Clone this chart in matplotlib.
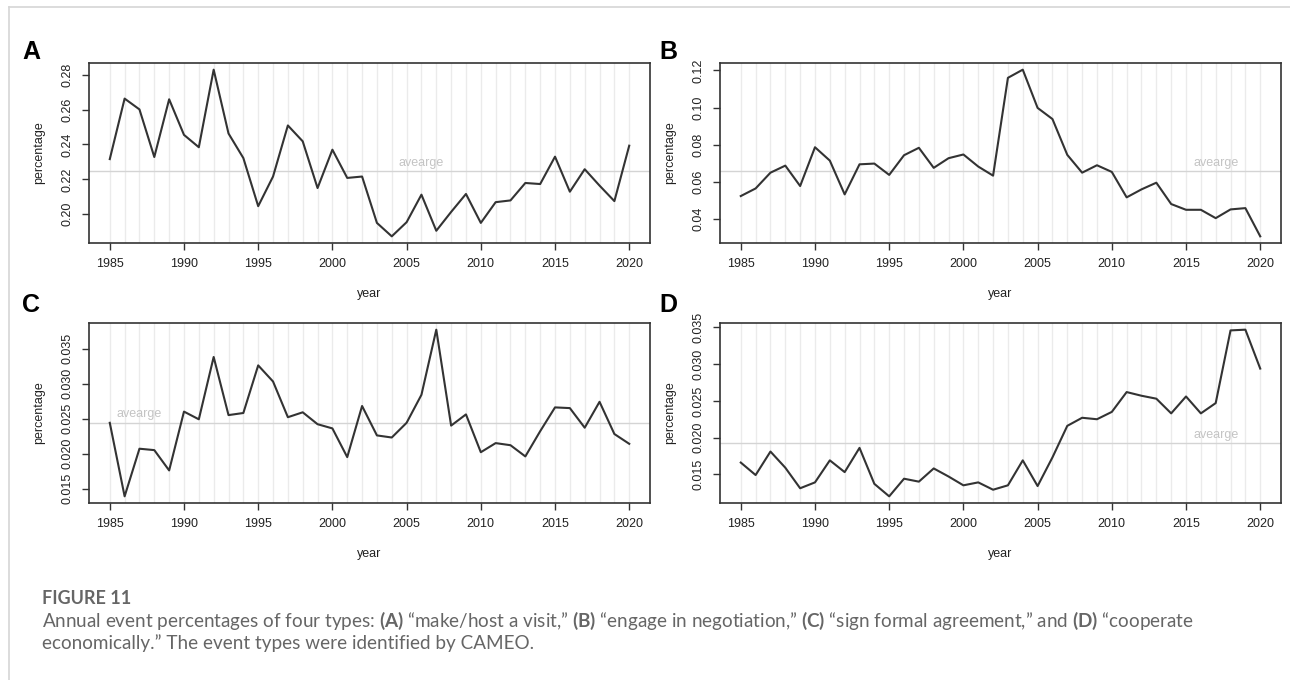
import matplotlib
matplotlib.use("Agg")
import matplotlib.pyplot as plt
import numpy as np
from matplotlib.lines import Line2D

plt.rcParams['font.family'] = ['Liberation Sans', 'DejaVu Sans']
plt.rcParams['mathtext.fontset'] = 'custom'
plt.rcParams['mathtext.rm'] = 'Lato'
plt.rcParams['mathtext.bf'] = 'Lato:bold'

years = list(range(1985, 2021))

# (A) make/host a visit
visit = [0.2316, 0.2663, 0.2601, 0.2328, 0.2659, 0.2455, 0.2384, 0.2829, 0.2463, 0.2322,
         0.2046, 0.2216, 0.2509, 0.2418, 0.2150, 0.2370, 0.2208, 0.2216, 0.1950, 0.1873,
         0.1954, 0.2112, 0.1905, 0.2013, 0.2116, 0.1950, 0.2069, 0.2079, 0.2179, 0.2173,
         0.2330, 0.2129, 0.2258, 0.2164, 0.2075, 0.2393]
# (B) engage in negotiation
negotiation = [0.0523, 0.0564, 0.0649, 0.0687, 0.0577, 0.0786, 0.0714, 0.0532, 0.0694, 0.0698,
               0.0637, 0.0743, 0.0783, 0.0675, 0.0727, 0.0747, 0.0682, 0.0633, 0.1160, 0.1204,
               0.0998, 0.0938, 0.0745, 0.0649, 0.0689, 0.0653, 0.0516, 0.0559, 0.0595, 0.0480,
               0.0449, 0.0449, 0.0404, 0.0451, 0.0458, 0.0306]
# (C) sign formal agreement
agreement = [0.0244, 0.0139, 0.0207, 0.0205, 0.0176, 0.0260, 0.0249, 0.0338, 0.0255, 0.0258,
             0.0326, 0.0303, 0.0252, 0.0259, 0.0242, 0.0236, 0.0195, 0.0268, 0.0226, 0.0223,
             0.0244, 0.0284, 0.0377, 0.0240, 0.0256, 0.0202, 0.0215, 0.0212, 0.0196, 0.0232,
             0.0266, 0.0265, 0.0237, 0.0274, 0.0228, 0.0214]
# (D) cooperate economically
economic = [0.0166, 0.0149, 0.0181, 0.0159, 0.0131, 0.0139, 0.0169, 0.0153, 0.0186, 0.0137,
            0.0120, 0.0144, 0.0140, 0.0158, 0.0147, 0.0135, 0.0139, 0.0129, 0.0135, 0.0169,
            0.0134, 0.0173, 0.0216, 0.0227, 0.0225, 0.0235, 0.0262, 0.0257, 0.0253, 0.0233,
            0.0256, 0.0233, 0.0247, 0.0346, 0.0347, 0.0294]

averages = [0.2245, 0.0658, 0.0244, 0.0192]
avg_label_year = [2006, 2017, 1987, 2017]

yticks_a = [0.20, 0.22, 0.24, 0.26, 0.28]
yticks_b = [0.04, 0.06, 0.08, 0.10, 0.12]
yticks_c = [0.015, 0.020, 0.025, 0.030, 0.035]
yticks_d = [0.015, 0.020, 0.025, 0.030, 0.035]
ytick_fmt = ["%.2f", "%.2f", "%.3f", "%.3f"]
xticks = [1985, 1990, 1995, 2000, 2005, 2010, 2015, 2020]
panel_letters = ["A", "B", "C", "D"]

W, H = 1290, 680
fig = plt.figure(figsize=(W / 100, H / 100), dpi=100)

def box(left, right, top, bottom):
    return [left / W, 1 - bottom / H, (right - left) / W, (bottom - top) / H]

positions = [box(89, 650, 63, 243), box(720, 1281, 63, 243),
             box(89, 650, 323, 503), box(720, 1281, 323, 503)]
letter_pos = [(22, 52), (659, 52), (22, 305), (659, 305)]

series = [visit, negotiation, agreement, economic]
yticks_all = [yticks_a, yticks_b, yticks_c, yticks_d]

dark = "#333333"
for i in range(4):
    ax = fig.add_axes(positions[i])
    ax.set_xticks(years, minor=True)
    ax.grid(True, which='both', axis='x', color='#ebebeb', linewidth=1.0)
    ax.set_axisbelow(True)
    ax.axhline(averages[i], color='#d4d4d4', linewidth=1.0)
    ax.plot(years, series[i], color=dark, linewidth=1.5)
    ax.annotate("avearge", (avg_label_year[i], averages[i]), xytext=(0, 6),
                textcoords='offset points', ha='center', va='center',
                fontsize=9, color='#c4c4c4')
    ax.margins(x=0.04, y=0.04)

    ax.set_xticks(xticks)
    ax.set_xticklabels([str(x) for x in xticks])
    ax.set_yticks(yticks_all[i])
    ax.set_yticklabels([ytick_fmt[i] % v for v in yticks_all[i]])
    ax.tick_params(axis='both', which='major', direction='out', length=5,
                   width=1.0, color=dark, labelsize=9, labelcolor='#222222', pad=6)
    ax.tick_params(axis='x', which='minor', length=0)
    ax.tick_params(axis='y', labelrotation=90)
    for lbl in ax.get_yticklabels():
        lbl.set_va('center')
    ax.tick_params(top=False, right=False)
    for s in ax.spines.values():
        s.set_color(dark)
        s.set_linewidth(1.2)
    ax.set_xlabel("year", fontsize=9, labelpad=13, color='#222222')
    ax.set_ylabel("percentage", fontsize=9, labelpad=12, color='#222222')

    lx, ly = letter_pos[i]
    fig.text(lx / W, 1 - ly / H, panel_letters[i], fontsize=18, fontweight='bold',
             ha='left', va='center', color='black')

# page frame
fig.add_artist(Line2D([9 / W, 1], [1 - 7 / H, 1 - 7 / H], color='#d6d6d6', linewidth=1.2))
fig.add_artist(Line2D([9 / W, 9 / W], [0, 1 - 7 / H], color='#d6d6d6', linewidth=1.2))

# caption
cap_col = '#666666'
fig.text(42 / W, 1 - 598 / H, "FIGURE 11", fontsize=13, fontweight='bold',
         family='Lato', color=cap_col, ha='left', va='center')
line1 = (r"Annual event percentages of four types: $\mathbf{(A)}$ “make/host a visit,” "
         r"$\mathbf{(B)}$ “engage in negotiation,” $\mathbf{(C)}$ “sign formal agreement,” "
         r"and $\mathbf{(D)}$ “cooperate")
line2 = "economically.” The event types were identified by CAMEO."
fig.text(42 / W, 1 - 621 / H, line1, fontsize=13.6, family='Lato', color=cap_col,
         ha='left', va='center')
fig.text(42 / W, 1 - 643 / H, line2, fontsize=13.6, family='Lato', color=cap_col,
         ha='left', va='center')

fig.savefig("out.png", dpi=100)
